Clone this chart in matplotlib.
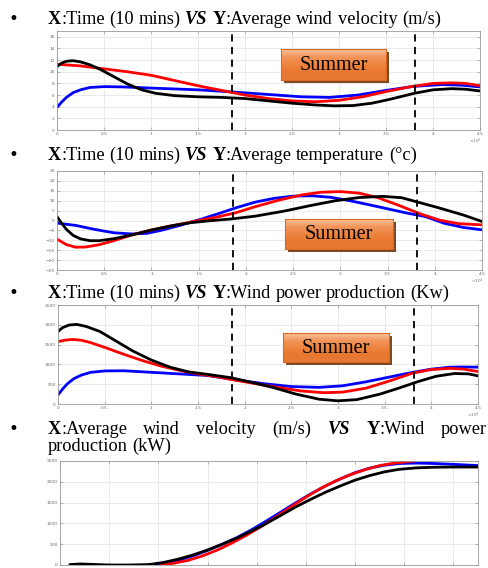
import matplotlib
matplotlib.use("Agg")
import matplotlib.pyplot as plt
import numpy as np
from matplotlib.patches import Rectangle
from matplotlib.colors import LinearSegmentedColormap

W, H = 488, 568
SERIF = "Liberation Serif"

# ---------------- data ----------------
# Panel 1: average wind velocity (m/s) vs time (x10^4 samples of 10 mins)
p1_black_x = [0, 0.05, 0.1, 0.17, 0.25, 0.35, 0.45, 0.6, 0.75, 0.9, 1.05, 1.25, 1.5, 1.75, 2.0, 2.25, 2.5, 2.75, 2.95, 3.15, 3.35, 3.55, 3.8, 4.0, 4.2, 4.35, 4.5]
p1_black_y = [10.9, 11.5, 11.8, 11.9, 11.7, 11.2, 10.5, 9.2, 7.9, 6.9, 6.3, 5.9, 5.7, 5.6, 5.4, 5.0, 4.6, 4.3, 4.15, 4.2, 4.6, 5.3, 6.3, 6.9, 7.1, 7.0, 6.7]
p1_red_x = [0, 0.25, 0.5, 0.75, 1.0, 1.25, 1.5, 1.75, 2.0, 2.25, 2.5, 2.75, 3.0, 3.25, 3.5, 3.75, 4.0, 4.2, 4.35, 4.5]
p1_red_y = [11.3, 11.0, 10.5, 10.0, 9.4, 8.5, 7.6, 6.8, 6.0, 5.4, 5.0, 4.85, 5.1, 5.7, 6.6, 7.4, 8.0, 8.1, 8.0, 7.6]
p1_blue_x = [0, 0.05, 0.1, 0.17, 0.25, 0.35, 0.5, 0.7, 1.0, 1.5, 1.9, 2.25, 2.6, 2.9, 3.2, 3.5, 3.8, 4.1, 4.3, 4.5]
p1_blue_y = [3.9, 4.8, 5.6, 6.4, 6.9, 7.3, 7.45, 7.4, 7.2, 6.9, 6.5, 6.1, 5.7, 5.6, 6.0, 6.8, 7.5, 7.8, 7.7, 7.4]

# Panel 2: average temperature
p2_black_x = [0, 0.05, 0.1, 0.17, 0.25, 0.35, 0.45, 0.6, 0.8, 1.0, 1.2, 1.4, 1.6, 1.85, 2.1, 2.4, 2.7, 2.95, 3.2, 3.45, 3.65, 3.85, 4.05, 4.3, 4.5]
p2_black_y = [2, -1.5, -4.5, -7.5, -9.3, -10.2, -10.2, -9.2, -7.2, -4.8, -2.8, -1.2, -0.2, 0.8, 2.2, 4.7, 7.7, 10.0, 11.6, 12.2, 11.5, 8.9, 6.3, 2.8, -0.5]
p2_red_x = [0, 0.1, 0.2, 0.3, 0.45, 0.6, 0.8, 1.0, 1.2, 1.5, 1.7, 1.9, 2.1, 2.35, 2.6, 2.8, 3.0, 3.2, 3.4, 3.6, 3.85, 4.05, 4.25, 4.5]
p2_red_y = [-9.4, -12.2, -13.5, -13.4, -12.2, -10.2, -7.2, -4.8, -2.8, 0, 1.8, 4.0, 7.0, 10.3, 13.0, 14.3, 14.6, 13.8, 11.5, 8.0, 3.3, 0.2, -1.6, -2.2]
p2_blue_x = [0, 0.2, 0.4, 0.6, 0.8, 0.95, 1.1, 1.3, 1.5, 1.7, 1.9, 2.1, 2.3, 2.5, 2.7, 2.9, 3.1, 3.3, 3.5, 3.7, 3.9, 4.1, 4.3, 4.5]
p2_blue_y = [-1.3, -2.5, -4.5, -6.2, -6.8, -6.5, -5.0, -2.5, 0.3, 3.3, 6.5, 9.3, 11.2, 12.3, 12.5, 11.7, 10.0, 8.0, 5.9, 3.8, 2.0, -1.4, -3.5, -4.7]

# Panel 3: wind power production (kW)
p3_black_x = [0, 0.05, 0.12, 0.2, 0.3, 0.45, 0.6, 0.8, 1.0, 1.2, 1.4, 1.6, 1.85, 2.05, 2.3, 2.55, 2.8, 3.0, 3.2, 3.45, 3.65, 3.85, 4.05, 4.25, 4.4, 4.5]
p3_black_y = [1830, 1930, 1995, 2010, 1960, 1830, 1620, 1340, 1110, 930, 810, 750, 665, 560, 420, 250, 120, 80, 110, 250, 400, 560, 700, 770, 760, 710]
p3_red_x = [0, 0.08, 0.16, 0.25, 0.35, 0.5, 0.7, 0.9, 1.1, 1.3, 1.5, 1.7, 1.9, 2.1, 2.35, 2.6, 2.85, 3.05, 3.3, 3.55, 3.8, 4.0, 4.2, 4.35, 4.5]
p3_red_y = [1575, 1615, 1630, 1610, 1550, 1430, 1260, 1100, 960, 850, 760, 690, 600, 520, 420, 330, 285, 300, 400, 580, 780, 870, 900, 880, 820]
p3_blue_x = [0, 0.05, 0.1, 0.17, 0.25, 0.35, 0.5, 0.7, 1.0, 1.3, 1.6, 1.9, 2.2, 2.5, 2.8, 3.05, 3.3, 3.55, 3.8, 4.0, 4.2, 4.35, 4.5]
p3_blue_y = [230, 380, 510, 640, 730, 800, 835, 840, 800, 760, 720, 610, 515, 440, 420, 460, 560, 680, 800, 880, 930, 935, 930]

# Panel 4: power curve
p4_black_x = [0.4, 0.8, 1.3, 2.0, 2.8, 3.6, 4.2, 4.8, 5.4, 6.0, 6.6, 7.2, 7.8, 8.4, 9.0, 9.6, 10.2, 10.8, 11.4, 12.0, 12.6, 13.2, 13.8, 14.5, 15.2, 16.0, 17.0]
p4_black_y = [10, 25, 15, 0, 0, 10, 60, 140, 240, 360, 500, 650, 820, 1000, 1200, 1400, 1580, 1750, 1900, 2040, 2150, 2240, 2300, 2335, 2350, 2355, 2355]
p4_red_x = [4.1, 4.6, 5.2, 5.8, 6.4, 7.0, 7.6, 8.2, 8.8, 9.4, 10.0, 10.6, 11.2, 11.8, 12.4, 13.0, 13.6, 14.4]
p4_red_y = [0, 40, 110, 220, 360, 530, 720, 930, 1160, 1400, 1630, 1840, 2020, 2170, 2290, 2390, 2450, 2500]
p4_blue_x = [3.6, 4.2, 4.8, 5.4, 6.0, 6.6, 7.2, 7.8, 8.4, 9.0, 9.6, 10.2, 10.8, 11.4, 12.0, 12.6, 13.2, 13.8, 14.5, 15.2, 16.0, 17.0]
p4_blue_y = [0, 30, 110, 220, 350, 500, 660, 850, 1060, 1280, 1500, 1710, 1900, 2070, 2220, 2330, 2400, 2440, 2450, 2440, 2420, 2390]

summer_bounds = [1.86, 3.81]
time_ticks = [0, 0.5, 1, 1.5, 2, 2.5, 3, 3.5, 4, 4.5]
time_ticklabels = ["0", "0.5", "1", "1.5", "2", "2.5", "3", "3.5", "4", "4.5"]

# ---------------- figure ----------------
fig = plt.figure(figsize=(W / 100, H / 100), dpi=100)
fig.patch.set_facecolor("white")


def px_axes(left, right, top, bottom):
    return fig.add_axes([left / W, 1 - bottom / H, (right - left) / W, (bottom - top) / H])


def style_axes(ax):
    for s in ax.spines.values():
        s.set_color("#9a9a9a")
        s.set_linewidth(0.6)
    ax.grid(True, color="#e6e6e6", linewidth=0.6)
    ax.set_axisbelow(True)
    ax.tick_params(direction="in", length=2, width=0.4, colors="#8a8a8a",
                   labelsize=3.2, labelcolor="#6a6a6a", pad=1.5, top=True, right=True)


def draw_series(ax, series):
    for xs, ys, c in series:
        ax.plot(xs, ys, color=c, linewidth=2.0, solid_capstyle="round")


def summer_box(left, right, top, bottom):
    fig.patches.append(Rectangle(((left + 3) / W, 1 - (bottom + 3) / H),
                                 (right - left) / W, (bottom - top) / H,
                                 transform=fig.transFigure, facecolor="#7b4a24",
                                 edgecolor="none", zorder=5))
    bx = px_axes(left, right, top, bottom)
    bx.set_zorder(6)
    grad = np.linspace(0, 1, 64).reshape(-1, 1)
    cmap = LinearSegmentedColormap.from_list(
        "org", ["#f7c3a0", "#f2955a", "#ee8440", "#e8772f", "#e57a36"])
    bx.imshow(grad, aspect="auto", cmap=cmap, extent=[0, 1, 0, 1], origin="upper")
    bx.set_xticks([])
    bx.set_yticks([])
    for s in bx.spines.values():
        s.set_color("#d86a22")
        s.set_linewidth(0.8)
    bx.text(0.5, 0.47, "Summer", ha="center", va="center", fontsize=14.5,
            family=SERIF, color="black")


def rich_line(x_px, y_px, parts, size=13.2, justify_to=None, space_em=0.25):
    r = fig.canvas.get_renderer()
    widths = []
    texts = []
    for word in parts:
        wsum = 0
        tw = []
        for txt, wt, st in word:
            t = fig.text(0, 0, txt, fontsize=size, family=SERIF, weight=wt, style=st,
                         va="baseline", ha="left")
            bb = t.get_window_extent(r)
            tw.append((t, bb.width))
            wsum += bb.width
        widths.append(wsum)
        texts.append(tw)
    space = size * 100 / 72 * space_em
    if justify_to is not None and len(parts) > 1:
        space = (justify_to - x_px - sum(widths)) / (len(parts) - 1)
    x = x_px
    for tw in texts:
        for t, w in tw:
            t.set_position((x / W, 1 - y_px / H))
            x += w
        x += space


def bullet(y_px):
    fig.text(13 / W, 1 - y_px / H, "\u2022", fontsize=12, family="DejaVu Sans",
             va="baseline", ha="center")


B = ("bold", "normal")
N = ("normal", "normal")
BI = ("bold", "italic")


def P(txt, f):
    return (txt, f[0], f[1])


# titles
bullet(24)
rich_line(48, 24, [[P("X", B), P(":Time", N)], [P("(10", N)], [P("mins)", N)], [P("VS", BI)],
                   [P("Y", B), P(":Average", N)], [P("wind", N)], [P("velocity", N)], [P("(m/s)", N)]])
bullet(160)
rich_line(48, 160, [[P("X", B), P(":Time", N)], [P("(10", N)], [P("mins)", N)], [P("VS", BI)],
                    [P("Y", B), P(":Average", N)], [P("temperature", N)], [P("(\u00b0c)", N)]])
bullet(298)
rich_line(48, 298, [[P("X", B), P(":Time", N)], [P("(10", N)], [P("mins)", N)], [P("VS", BI)],
                    [P("Y", B), P(":Wind", N)], [P("power", N)], [P("production", N)], [P("(Kw)", N)]])
bullet(434)
rich_line(48, 434, [[P("X", B), P(":Average", N)], [P("wind", N)], [P("velocity", N)], [P("(m/s)", N)],
                    [P("VS", BI)], [P("Y", B), P(":Wind", N)], [P("power", N)]], justify_to=487)
rich_line(48, 451, [[P("production", N)], [P("(kW)", N)]])

# panel 1
ax1 = px_axes(57, 480, 31, 130)
style_axes(ax1)
draw_series(ax1, [(p1_blue_x, p1_blue_y, "#0000ff"), (p1_red_x, p1_red_y, "#ff0000"),
                  (p1_black_x, p1_black_y, "black")])
ax1.set_xlim(0, 4.5)
ax1.set_ylim(0, 17)
ax1.set_yticks(range(0, 17, 2))
ax1.set_xticks(time_ticks)
ax1.set_xticklabels(time_ticklabels)
for b in summer_bounds:
    ax1.axvline(b, color="black", linestyle=(0, (4, 3)), linewidth=1.3)
fig.text(475 / W, 1 - 143 / H, "\u00d710$^4$", fontsize=3, color="#6a6a6a", ha="center")

# panel 2
ax2 = px_axes(57, 482, 171, 270)
style_axes(ax2)
draw_series(ax2, [(p2_blue_x, p2_blue_y, "#0000ff"), (p2_red_x, p2_red_y, "#ff0000"),
                  (p2_black_x, p2_black_y, "black")])
ax2.set_xlim(0, 4.5)
ax2.set_ylim(-25, 25)
ax2.set_yticks(range(-25, 26, 5))
ax2.set_xticks(time_ticks)
ax2.set_xticklabels(time_ticklabels)
for b in summer_bounds:
    ax2.axvline(b, color="black", linestyle=(0, (4, 3)), linewidth=1.3)
fig.text(477 / W, 1 - 283 / H, "\u00d710$^4$", fontsize=3, color="#6a6a6a", ha="center")

# panel 3
ax3 = px_axes(58, 478, 305, 404)
style_axes(ax3)
draw_series(ax3, [(p3_blue_x, p3_blue_y, "#0000ff"), (p3_red_x, p3_red_y, "#ff0000"),
                  (p3_black_x, p3_black_y, "black")])
ax3.set_xlim(0, 4.5)
ax3.set_ylim(0, 2500)
ax3.set_yticks(range(0, 2501, 500))
ax3.set_xticks(time_ticks)
ax3.set_xticklabels(time_ticklabels)
for b in summer_bounds:
    ax3.axvline(b, color="black", linestyle=(0, (4, 3)), linewidth=1.3)
fig.text(473 / W, 1 - 417 / H, "\u00d710$^4$", fontsize=3, color="#6a6a6a", ha="center")

# panel 4
ax4 = px_axes(60, 478, 461, 565)
style_axes(ax4)
draw_series(ax4, [(p4_blue_x, p4_blue_y, "#0000ff"), (p4_red_x, p4_red_y, "#ff0000"),
                  (p4_black_x, p4_black_y, "black")])
ax4.set_xlim(0, 17)
ax4.set_ylim(0, 2500)
ax4.set_yticks(range(0, 2501, 500))
ax4.set_xticks(range(0, 17, 2))
ax4.tick_params(labelbottom=False)

# summer boxes
summer_box(281, 386, 49, 80)
summer_box(285, 393, 219, 249)
summer_box(283, 389, 333, 362)

fig.savefig("out.png", dpi=100, facecolor="white")
